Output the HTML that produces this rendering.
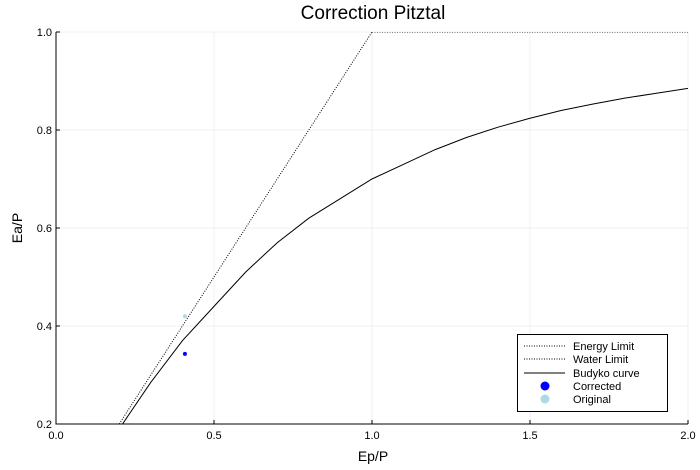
<!DOCTYPE html>
<html><head><meta charset="utf-8"><style>body{margin:0;background:#fff}svg{display:block;font-family:"Liberation Sans",sans-serif}</style></head>
<body>
<svg id="chart" width="700" height="470"></svg>
<script>
const budykoX=[0.2,0.3,0.4,0.5,0.6,0.7,0.8,0.9,1.0,1.1,1.2,1.3,1.4,1.5,1.6,1.7,1.8,1.9,2.0];
const budykoY=[0.19,0.285,0.37,0.44,0.51,0.57,0.62,0.66,0.70,0.73,0.76,0.785,0.806,0.824,0.840,0.853,0.865,0.875,0.885];
const energyX=[0.2,1.0];
const energyY=[0.2,1.0];
const waterX=[1.0,2.0];
const waterY=[1.0,1.0];
const correctedX=[0.408];
const correctedY=[0.343];
const originalX=[0.408];
const originalY=[0.42];
const xTicks=[0,0.5,1.0,1.5,2.0];
const xTickLabels=["0.0","0.5","1.0","1.5","2.0"];
const yTicks=[0.2,0.4,0.6,0.8,1.0];
const yTickLabels=["0.2","0.4","0.6","0.8","1.0"];

const NS="http://www.w3.org/2000/svg";
const svg=document.getElementById('chart');
const L=56,R=688,T=32,B=424;
const sx=v=>L+(v-0)/2*(R-L);
const sy=v=>B-(v-0.2)/0.8*(B-T);
function mk(tag,attrs,parent){const e=document.createElementNS(NS,tag);for(const k in attrs)e.setAttribute(k,attrs[k]);(parent||svg).appendChild(e);return e;}

const defs=mk('defs',{});
const cp=mk('clipPath',{id:'clip'},defs);
mk('rect',{x:L,y:T,width:R-L,height:B-T},cp);

xTicks.forEach((t,i)=>{
  const g=mk('line',{x1:sx(t),x2:sx(t),y1:T,y2:B,stroke:'#000','stroke-opacity':0.1,'stroke-width':0.5});
  
  
  const tk=mk('line',{x1:sx(t),x2:sx(t),y1:B,y2:B-4,stroke:'#000','stroke-width':1});
  
  
  const tx=mk('text',{x:sx(t),y:B+15,'text-anchor':'middle','font-size':11});
  tx.textContent=xTickLabels[i];
  
  
});
yTicks.forEach((t,i)=>{
  const g=mk('line',{x1:L,x2:R,y1:sy(t),y2:sy(t),stroke:'#000','stroke-opacity':0.1,'stroke-width':0.5});
  
  
  const tk=mk('line',{x1:L,x2:L+4,y1:sy(t),y2:sy(t),stroke:'#000','stroke-width':1});
  
  
  const tx=mk('text',{x:L-4,y:sy(t)+4,'text-anchor':'end','font-size':11});
  tx.textContent=yTickLabels[i];
  
  
});
const ax=mk('path',{d:`M${L},${T}V${B}H${R}`,fill:'none',stroke:'#000','stroke-width':1});



function line(xs,ys,dash,name){
  const d=xs.map((x,i)=>(i?'L':'M')+sx(x)+','+sy(ys[i])).join('');
  const p=mk('path',{d:d,fill:'none',stroke:'#000','stroke-width':1,'clip-path':'url(#clip)'});
  if(dash)p.setAttribute('stroke-dasharray',dash);
  
  
}
line(energyX,energyY,'1,1.5','energy-limit-line');
line(waterX,waterY,'1,1.5','water-limit-line');
line(budykoX,budykoY,null,'budyko-curve');
originalX.forEach((x,i)=>{
  const c=mk('circle',{cx:sx(x),cy:sy(originalY[i]),r:2,fill:'#add8e6'});
  
  
});
correctedX.forEach((x,i)=>{
  const c=mk('circle',{cx:sx(x),cy:sy(correctedY[i]),r:2,fill:'#0000ff'});
  
  
});
</script>
<svg width="700" height="470" style="position:absolute;left:0;top:0" font-family="Liberation Sans, sans-serif">
<text x="373" y="19" text-anchor="middle" font-size="19">Correction Pitztal</text>
<text x="373" y="461" text-anchor="middle" font-size="14">Ep/P</text>
<text x="22" y="228" text-anchor="middle" font-size="14" transform="rotate(-90 22 228)">Ea/P</text>
<g>
<rect x="517.5" y="334.5" width="150" height="77" fill="#fff" stroke="#000" stroke-width="1"/>
<line x1="524" x2="565" y1="346" y2="346" stroke="#000" stroke-dasharray="1,1.5"/>
<text x="573" y="350" font-size="11">Energy Limit</text>
<line x1="524" x2="565" y1="359" y2="359" stroke="#000" stroke-dasharray="1,1.5"/>
<text x="573" y="363" font-size="11">Water Limit</text>
<line x1="524" x2="565" y1="373" y2="373" stroke="#000"/>
<text x="573" y="377" font-size="11">Budyko curve</text>
<circle cx="545" cy="386" r="4.5" fill="#0000ff"/>
<text x="573" y="390" font-size="11">Corrected</text>
<circle cx="545" cy="399" r="4.5" fill="#add8e6"/>
<text x="573" y="403" font-size="11">Original</text>
</g>
</svg>
</body></html>
